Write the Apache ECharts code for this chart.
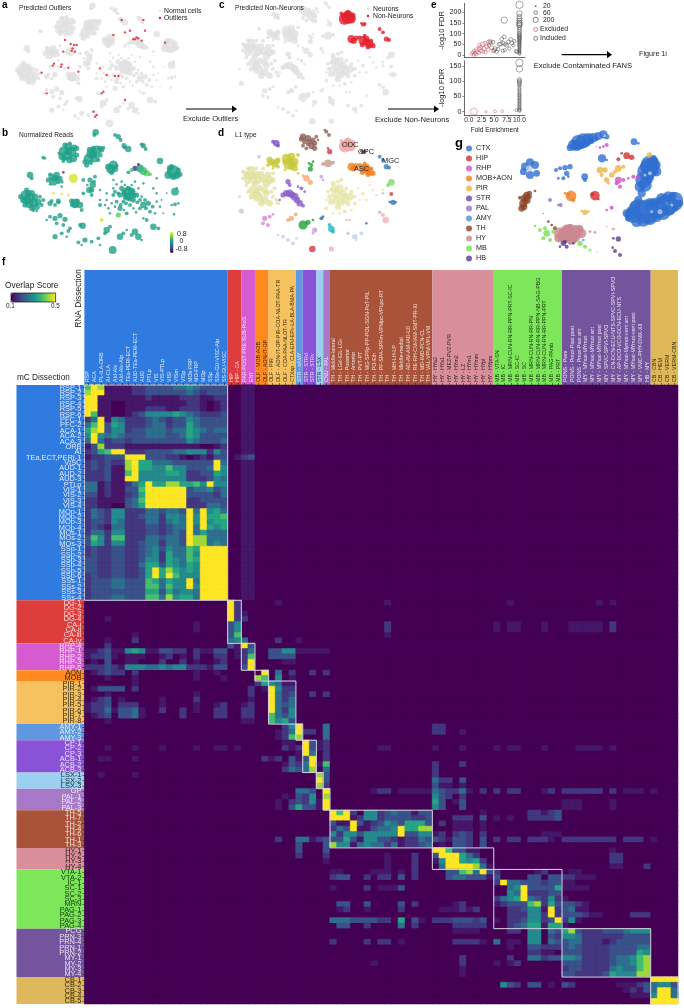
<!DOCTYPE html>
<html><head><meta charset="utf-8">
<style>html,body{margin:0;padding:0;background:#fff}#c{width:684px;height:1008px}#c canvas{filter:blur(0.35px)}</style>
<script src="https://cdn.jsdelivr.net/npm/echarts@6/dist/echarts.min.js"></script>
</head><body><div id="c"></div>
<script>
// ---------- Heatmap column labels, per RNA dissection group ----------
const colsCTX=["RSP","ACA","PL-ILA-ORB","AI-CLA","AId-AIv","AId-AIv-AIp","TEa-PERI-ECT","AUD-TEa-PERI-ECT","AUD","PTLp","VIS","VIS-PTLp","VISl","VISm","VISp","MOs-FRP","MO-FRP","MOp","SSp","SSs-GU-VISC-AIp","SS-GU-VISC"];
const colsHIP=["HIP","HIP - CA"];
const colsRHP=["PAR-POST-PRE-SUB-ProS","ENT"];
const colsMOB=["OLF - MOB-AOB","OLF - AON-IT-OP"];
const colsPIR=["OLF - PIR","OLF - AON-IT-OP-PIR-COA-NLOT-PAA-TR","OLF - COA-PAA-NLOT-TR","CTXsp - CLA-EPd-EPv-LA-BLA-BMA-PA"];
const colsAMY=["STR - sAMY"];
const colsSTR=["STR - STRd","STR - STRv"];
const colsLSX=["STR - LSX"];
const colsPAL=["CNU - PAL"];
const colsTH=["TH - Middle-lateral","TH - LGd-IGL-LGv","TH - Posterior","TH - Anterior","TH - PVT-PT","TH - MG-SPFp-PP-POL-SGN-PoT-PIL","TH - PO-Eth","TH - PF-SPA-SPFm-VPMpc-VPLpc-RT","TH","TH - MH-LH-LP","TH - Middle-medial","TH - AD-AV-AM-IAD-LD","TH - RE-RH-CM-IAM-SMT-PR-Xi","TH - MD-IMD-PCN-CL","TH - VAL-VPM-VPL-VM"];
const colsHY=["HY - HYa2","HY - HYa1","HY - MEZ-PVZ-PVR","HY - HYm2","HY - LZ","HY - HYm1","HY - HYmm","HY - HYpl","HY - HYpm"];
const colsMB=["MB - VTA-SN","MB - IC","MB - MRN-CUN-RN-RR-PPN-PRT-SC-IC","MB - SC-IC","MB - SC","MB - MRN-CUN-RN-RR-PN","MB - MRN-CUN-RN-RR-PPN-NB-SAG-PBG","MB - MRN-CUN-RN-RR-PPN-PRT","MB - PAG-PAmb","MB - PRT"];
const colsHB=["PONS - Pwm","PONS - Pmot-Psat post","PONS - Pmot-Psat ant","MY - MYsat-MYmot","MY - MYsat-MYmot ant","MY - MYsat-MYmot post","MY - SPVC-SPVI-SPVO","MY - CN-DCN-ECU-NTS-SPVC-SPVI-SPVO","MY - AP-DCO-VCO-DCN-ECU-NTS","MY - MYsat-Mymot-vent ant","MY - MYsat-MYmot-vent post","MY - VMC-PHY-DMX-XII","HB - MY"];
const colsCB=["CB - CBN","CB - HEM","CB - VERM","CB - VERM-CBN"];

// ---------- Heatmap row labels, per mC dissection group ----------
const rowNamesCTX=["RSP-1","RSP-2","RSP-3","RSP-4","RSP-5","RSP-6","PFC-1","PFC-2","ACA-1","ACA-2","ACA-3","ORB","AI","TEa,ECT,PERI-1","VISC","AUD-1","AUD-2","AUD-3","PTLp","VIS-1","VIS-2","VIS-3","VIS-4","MOp-1","MOp-2","MOp-3","MOp-4","MOs-1","MOs-2","MOs-3","SSp-1","SSp-2","SSp-3","SSp-4","SSp-5","SSp-6","SSs-1","SSs-2","SSs-3","SSs-4"];
const rowNamesHIP=["DG-1","DG-2","DG-3","DG-4","CA-i","CA-ii","CA-iii","CA-iv"];
const rowNamesRHP=["RHP-4","RHP-1","RHP-2","RHP-3","RHP-5"];
const rowNamesMOB=["AON","MOB"];
const rowNamesPIR=["PIR-1","PIR-2","PIR-3","PIR-4","PIR-5","PIR-6","PIR-7","PIR-8"];
const rowNamesAMY=["AMY-1","AMY-2","AMY-3"];
const rowNamesSTR=["CP-1","CP-2","CP-3","ACB-1","ACB-2","ACB-3"];
const rowNamesLSX=["LSX-1","LSX-2","LSX-3"];
const rowNamesPAL=["GP","PAL-1","PAL-2","PAL-3"];
const rowNamesTH=["TH-5","TH-7","TH-2","TH-4","TH-6","TH-1","TH-3"];
const rowNamesHY=["HY-1","HY-2","HY-3","HY-4"];
const rowNamesMB=["VTA-1","VTA-2","IC-1","SC-1","SC-2","SC-3","MRN","PAG-1","PAG-2","PAG-3","PAG-4"];
const rowNamesHB=["PCG","PRN-3","PRN-4","PRN-1","PRN-2","MY-1","MY-2","MY-3","MY-4"];
const rowNamesCB=["CB-1","CB-2","CB-3","CB-4","CB-5"];

// ---------- Overlap score levels: "startColumn:digits", digit picks from levelScores ----------
const levelScores=[0.10,0.125,0.165,0.2,0.245,0.29,0.335,0.38,0.44,0.5];
const rowsCTX=[
"0:798111122333344543333 23:11","0:899111122333333432333 23:11","0:991111111211112221122 23:11","0:991100111111111221012 23:11","0:991100111222112221012 23:11","0:971100123555565432223 23:11",
"0:249154222343233543333 23:11","0:479365222344233643333 23:11","0:689355233444344654344 23:11","0:595454333444334653333 23:11","0:494233233333333543334 23:11",
"0:138222111111111110012 23:11","0:236799222333344555253 23:11","0:122333999333221012133 22:123",
"0:232322896644433333394 23:11","0:232311896655755333495 23:11","0:222311795555665223365 23:11","0:222311995555555222354 23:11","0:441211246966886675955 23:11",
"0:441211337999999344534 23:11","0:331211236999999333324 23:11","0:221111347999999223333 23:11","0:221100346999999222443 23:11",
"0:243255222443443949564 23:11","0:243255223442554959667 23:11","0:233254222442454959566 23:11","0:232144222332344949656 23:11","0:244255222332343946444 23:11","0:375277222443443988444 23:11","0:365255223442443988454 23:11",
"0:232233223453544769999 23:11","0:232233223452644759999 23:11","0:332233223552654769999 23:11","0:332233224663654659999 23:11","0:332233223696865659999 23:11","0:232233223696975559999 23:11",
"0:233344333764655949999 23:11","0:233344333774755959999 23:11","0:233333333663645549999 23:11","0:233344333774856649999 23:11"];
const rowsHIP=["21:92 28:1 44:1 62:1 75:1 77:1","21:92","21:92 23:1","3:1 21:92 23:2","16:1 21:35 44:2 60:1 62:11 67:1 71:11111 77:2","16:1 21:35 44:2 60:1 62:11 67:1 71:11111 77:2","7:1 21:37 44:1","3:1 7:2 21:454 28:2 31:1"];
const rowsRHP=["3:2 21:31 23:93","0:112311 6:56511 11:3322 16:211 19:33 22:1 23:24 27:3355 31:11111","0:12231 6:111 11:12 14:1 16:2 19:22 22:1 23:27 27:3333","1:1 3:3 6:11 11:2 14:2 16:1 19:12 23:29 29:11","0:222321 6:555445455 15:22 17:21 19:33 23:39"];
const rowsMOB=["1:1 2:232 5:2 7:2 16:1 19:1 26:9 28:4 30:2 33:2 35:2","3:1 7:1 16:1 20:1 25:87 28:5 30:1"];
const rowsPIR=["7:1 25:26 27:5411","1:13 3:33 5:3 7:2 24:2 26:1 27:9522","3:1 16:1 24:2 27:9423 33:2 35:2","1:12 3:3 5:1 11:1 16:2 24:1 27:9424","0:1223 5:222 11:1 16:1 19:12 23:12 27:9434","0:12241 5:3341 11:2 14:2 16:1 19:22 23:22 27:9425","1:12 3:3 5:3341 14:2 19:22 23:22 27:7435","3:1 23:11 27:7563"];
const rowsAMY=["29:25 31:9 35:4 51:22","28:124 31:9 32:22 35:4 51:22 55:1","28:127 31:8 35:4"];
const rowsSTR=["29:11 32:93 34:1 35:2","3:1 7:1 11:1 16:1 19:11 22:1 29:21 31:2 32:93 34:1 35:2 43:11 51:1 55:1 60:1 62:11 67:1 72:1111 77:1","31:1 32:94 35:2","2:11 7:1 26:212 30:31 32:39 35:2","29:132 32:49 34:1 35:7 51:2 55:2","29:243 32:48 35:4 51:2"];
const rowsLSX=["2:1 7:1 34:83 51:2","34:93 51:422 55:3","34:82 51:311 55:1"];
const rowsPAL=["31:443 35:9 42:122 46:11111 51:43224 56:1 58:2 60:2 62:22 67:12 70:222222 77:2 79:111 83:1","29:1 31:325 35:8 51:532 55:2","28:1 30:2 31:325 34:1 35:9 51:63 54:13 70:111 77:1","28:1 30:3 31:633 34:1 35:9 51:53 55:3 70:111 77:1"];
const rowsTH=[
"36:979205523433133 58:1 65:22123","36:999125523333223 54:222 58:3 60:1 62:1 65:22223","36:311931235436663 52:2 54:111 58:1","36:243911344596688 54:111 58:1","36:525535555593355 51:12 54:232 58:2 67:111","28:2 31:44 33:1 34:2 35:3 36:336315533212243 51:321 54:332 58:3 60:2 62:22 65:2221 70:22222222 79:222 83:1","31:3 35:3 36:855145442412234 52:1 54:332 58:3"];
const rowsHY=["31:3 35:3 51:99733 56:11 77:1","31:2 35:2 44:1 48:2 51:3999642 77:22","35:1 44:1 48:2 51:15996562 77:22","44:1 48:2 52:49999841 77:11 82:2"];
const rowsMB=[
"36:11 42:111 46:1 48:2 53:3 54:3 55:7 56:8 57:4 58:9 59:3 60:2 66:12 71:11","36:233 41:2 43:22 46:3 48:2 53:34433 58:3 59:1 60:3 65:33 68:33 70:22111","60:29 62:44333233 70:11","36:1 41:2 43:111 46:3 62:45933336 70:1111","62:54922233","60:24 62:56943252 70:1","37:33 41:3 46:3 48:2 54:12 60:12 62:33378263 70:3321","37:12 41:1 46:2 52:111212 62:22355192 70:3411","62:22255292 70:33321 75:1 80:222","36:444 39:333322 46:6 48:3 49:1 51:22233323 60:1 62:22355239 70:25 72:1","37:33 41:2 46:4 48:2 54:22222 62:23466166 70:1"];
const rowsHB=[
"54:1111 62:22 65:55 68:43 70:6832223334555","65:55 68:32 70:5542222223333","36:2 41:2 43:22 46:1 54:2222 58:1 60:4 62:11 65:55 68:43 70:3442221233333","62:1 65:33222 70:3432222333344","65:2211 70:3332222333365","55:2 62:2 65:44233 70:5542222344578","42:1 55:2 60:1 62:12 70:3332222344578","55:1 70:2332222454478","55:1 70:3322223655588"];
const rowsCB=["83:9999","61:532 65:33 68:1 70:32 78:111 81:23 83:4553","79:12 81:1 82:3 83:4994","80:11 82:1 83:5994","83:9999"];

// ---------- Group colours ----------
const groupColours={CTX:"#2f7be0",HIP:"#de3d3d",RHP:"#d65bd0",MOB:"#ff8a1f",PIR:"#f5c25f",AMY:"#5f97e0",STR:"#8a52d6",LSX:"#9cd0f0",PAL:"#a779c8",TH:"#a9533a",HY:"#d98f99",MB:"#7ee65a",HB:"#74549c",CB:"#dfb85c"};
const groupInk={CTX:"#e4ecfa",HIP:"#f8dcdc",RHP:"#f8e0f6",MOB:"#3a2408",PIR:"#3a2c10",AMY:"#e8f0fb",STR:"#ece2fa",LSX:"#103040",PAL:"#f2e8fa",TH:"#f6e2da",HY:"#2c1a1e",MB:"#10380a",HB:"#ebe4f4",CB:"#33280c"};
const groupOrder=["CTX","HIP","RHP","MOB","PIR","AMY","STR","LSX","PAL","TH","HY","MB","HB","CB"];
const colGroups={CTX:colsCTX,HIP:colsHIP,RHP:colsRHP,MOB:colsMOB,PIR:colsPIR,AMY:colsAMY,STR:colsSTR,LSX:colsLSX,PAL:colsPAL,TH:colsTH,HY:colsHY,MB:colsMB,HB:colsHB,CB:colsCB};
const rowNameGroups={CTX:rowNamesCTX,HIP:rowNamesHIP,RHP:rowNamesRHP,MOB:rowNamesMOB,PIR:rowNamesPIR,AMY:rowNamesAMY,STR:rowNamesSTR,LSX:rowNamesLSX,PAL:rowNamesPAL,TH:rowNamesTH,HY:rowNamesHY,MB:rowNamesMB,HB:rowNamesHB,CB:rowNamesCB};
const rowGroups={CTX:rowsCTX,HIP:rowsHIP,RHP:rowsRHP,MOB:rowsMOB,PIR:rowsPIR,AMY:rowsAMY,STR:rowsSTR,LSX:rowsLSX,PAL:rowsPAL,TH:rowsTH,HY:rowsHY,MB:rowsMB,HB:rowsHB,CB:rowsCB};
const viridis=["#440154","#482878","#3e4989","#31688e","#26828e","#1f9e89","#35b779","#6ece58","#b5de2b","#fde725"];

// ---------- t-SNE embedding 1 (panels a, b): [u, v, size, score] read in zoomed panel units ----------
const embed1=[[287,22,5],[283,30,3],[355,35,4],[345,30,3],[362,45,3],[372,62,4],[385,72,5],[375,68,3],[430,62,4],[437,72,3],[425,58,3],[130,98,3],[135,100,2],
[205,65,6],[190,78,7],[215,80,7],[200,92,7],[220,100,6],[185,95,5],[230,70,4],[190,108,3],[275,85,8],[290,75,7],[265,100,7],[285,100,6],[305,75,4],[260,120,4],[300,90,4],
[340,120,7],[332,132,7],[345,132,5],[335,142,4],[480,108,5],[405,130,4,-0.6],[395,135,3,0.3],[420,130,6],[440,145,5,0.45],[430,138,6,0.3],[450,148,3,0.4],[385,142,3],[415,118,2,-0.7],
[520,140,10],[510,130,5],[530,150,6],[535,135,4],[90,150,5],[95,160,3],[155,155,5],[170,150,5],[180,160,4],[160,170,6],[145,165,4],[175,172,3],[185,185,2],[220,160,7,0.7],[190,142,2,-0.6],
[75,210,7],[90,220,8],[100,235,7],[70,225,5],[110,245,5],[85,205,5],[120,215,3],[100,255,3],[130,225,3],[160,205,2,0.75],[185,207,2,0.75],[205,210,2,0.75],
[150,235,4],[175,228,4],[165,240,3],[225,235,7],[240,240,5],[215,228,4],[245,255,3],[270,165,4],[278,180,5],[268,195,5],[285,155,3],[275,210,3],[250,165,3],[250,205,3],[300,240,3],
[385,205,10],[340,210,3],[350,230,3],[365,190,4],[380,215,6],[395,200,6],[400,225,4],[370,230,3],[410,210,4],[340,190,2],[325,250,2],[360,250,4],[430,240,5],[445,235,4],[420,250,3],[450,260,3],[470,230,2],[460,190,2],[430,175,2],[480,245,2],[400,250,2],[320,225,2],[300,225,2],[355,270,4,0.4],[380,265,3],[440,285,3],[470,160,2],[340,165,2],[300,195,2],[375,180,2],[415,190,2],[355,205,3],[420,225,3],[390,240,3],
[525,200,6],[530,190,2],[525,238,3],[515,240,2],[535,235,2],[460,305,5],[475,310,3],[522,268,2],[150,275,3],[165,280,4],[180,272,4],[195,283,4],[170,295,3],[190,300,3],[210,310,3],[140,285,2],[248,302,5],[240,300,3],[305,285,3,0.7],[320,315,5],[330,305,3],[315,325,3],[360,335,5],[370,325,3],[380,315,2],[405,320,5],[415,335,5],[395,330,3],[425,345,2],[165,335,4],[185,325,3],[205,318,3],[200,335,2],[235,352,3],[255,345,4],[275,350,3],[295,340,3],[245,360,2],[300,360,2],[338,375,6],[430,280,2],
[62,215,4],[80,195,4],[95,205,5],[105,215,5],[75,240,4],[88,238,6],[115,230,5],[125,240,3],[95,250,4],[80,225,7],[110,258,2],[150,148,3],[165,160,5],[185,170,3],[150,178,2],[172,162,4],[195,60,4],[210,55,3],[222,68,5],[205,78,6],[192,100,4],[208,105,5],[230,90,4],[178,85,3],[270,75,5],[300,70,4],[280,70,4],[310,68,3],[272,112,4],[255,110,4],[295,105,3],[280,88,6],[325,125,5],[350,122,3],[505,150,6],[520,155,5],[540,148,4],[515,125,4],
[345,200,3],[360,210,4],[372,200,4],[385,190,4],[402,212,4],[390,222,4],[378,235,3],[362,240,3],[335,235,2],[345,245,2],[412,232,3],[425,215,2],[435,225,3],[395,180,2],[405,170,2],[365,170,2],[350,178,2],[320,205,2],[315,240,2],[330,265,2],[372,255,2],[408,262,2],[458,245,3],[438,250,3],[465,265,2],[485,225,1.5],[490,265,1.5],[500,205,1.5],[470,205,2],[225,240,5],[232,228,4],[215,240,3],[275,195,4],[282,170,3],[262,180,2],[175,232,3],[155,228,3]];
const outlierPoints=[[232,140],[240,140],[222,137],[200,160],[225,157],[235,160],[228,150],[168,202],[172,196],[193,205],[195,198],[215,208],[135,223],[315,285],[320,280],[355,233],[365,233],[330,230],[415,123],[425,120],[435,127],[410,122],[420,117],[400,97],[385,102],[350,110],[445,97],[505,133],[300,350],[385,305],[375,65],[440,65],[205,125],[150,285],[245,220],[310,210],[290,340],[295,355]];

// ---------- t-SNE embedding 2 (panels c, d): named cell types, [u, v, size] ----------
const typeExcPale=[[70,145,4],[85,135,6],[100,150,6],[75,165,6],[95,175,5],[115,145,4],[135,150,5],[130,175,6],[150,165,4],[70,180,3],[60,160,3],[90,195,7],[105,215,8],[125,225,6],[140,235,5],[85,215,4],[150,215,3],[110,190,5],[155,190,3],[60,140,3],[75,130,3],[100,130,3],[120,160,6],[105,165,6],[85,155,6],[140,165,6],[150,145,3],[120,130,3],[75,200,3],[100,205,6],[115,235,5],[130,205,5],[145,200,3],[165,235,3],[160,225,3],[70,150,5],[90,150,5],[125,195,5]];
const typeExcOlive=[[140,105,5],[155,118,5],[165,105,4],[150,130,2],[135,120,3],[165,125,3],[190,100,7],[205,95,6],[215,110,6],[195,120,7],[215,130,5],[225,90,3],[185,135,2],[225,145,2],[145,112,5],[160,110,5],[200,108,6],[205,125,5],[185,110,4],[212,118,5]];
const typeGray=[[108,95,3],[50,215,2],[55,258,4]];
const typePurpleTop=[[160,55,5],[150,50,3],[165,62,3]];
const typeBrown=[[240,35,5],[255,40,5],[270,45,4],[245,50,4],[265,62,5],[280,35,3],[250,70,3],[275,70,4],[310,20,3],[318,30,3],[305,15,2],[235,42,4],[260,50,4],[275,55,4],[240,62,3],[255,58,3],[285,45,2]];
const typeRed=[[320,80,4],[315,70,2],[505,207,3],[268,372,5]];
const typeODC=[[375,60,10],[360,55,4],[388,55,5],[370,50,4],[365,65,9],[385,65,7],[355,48,3],[375,45,4]];
const typeOPC=[[420,82,3],[425,80,3],[415,78,2]];
const typeMGC=[[470,95,3],[480,105,3],[490,125,4],[498,128,3]];
const typeASC=[[385,125,6],[400,122,4],[420,130,7],[430,125,5],[425,115,3],[440,140,6],[450,145,4],[410,120,3],[392,130,5],[432,135,6],[445,130,3],[418,142,4],[435,148,4]];
const typeTan=[[315,115,6],[300,117,3],[330,113,3]];
const typeGreen=[[265,120,3],[262,132,4],[258,115,2],[270,110,2],[240,300,7],[255,292,4],[270,285,2]];
const typeSalmon=[[250,160,5],[262,172,4],[240,152,2],[195,285,3],[205,280,4],[218,268,3]];
const typeStr=[[195,170,4],[200,180,3],[200,205,6],[215,215,6],[230,235,5],[180,210,4],[240,242,3],[235,190,3],[245,200,2],[225,185,2],[170,225,2],[190,205,5],[208,210,5],[222,225,5]];
const typeLavender=[[295,155,3],[300,165,2],[275,315,4],[270,325,2]];
const typeCenter=[[340,205,8],[350,190,6],[330,175,4],[365,220,7],[380,215,6],[325,230,5],[345,245,5],[315,200,3],[395,235,3],[405,190,2],[420,205,3],[440,180,2],[460,210,2],[355,165,3],[310,250,3],[365,260,3],[330,265,2],[480,195,2],[335,190,6],[360,205,6],[355,230,6],[375,235,4],[340,225,6],[320,215,4],[385,200,3],[395,215,3],[410,225,2],[370,190,3],[325,195,3],[345,170,3],[310,225,2],[350,265,2],[385,255,2],[430,225,2],[450,195,2]];
const typeLightGreen=[[505,172,5],[495,180,3]];
const typeBlue=[[510,232,4],[500,231,2],[518,232,2],[295,280,3],[300,275,2],[430,295,2]];
const typePink=[[470,262,3],[480,270,3],[488,285,5],[480,205,2],[370,285,2],[380,285,2],[325,372,4]];
const typeMagenta=[[125,280,4],[140,275,3],[120,295,3],[135,300,3],[150,268,2]];
const typeCyan=[[320,300,3],[325,312,5],[330,320,3]];
const typePaleBlue=[[165,330,2],[180,335,3],[195,345,3],[210,355,3],[220,340,2],[375,325,3],[395,335,4],[415,325,3],[400,345,2]];
const cellTypes=[
 [typeExcPale,"#e1e1a0",0],[typeExcOlive,"#c9c83a",0],[typeGray,"#c9c9c9",0],[typePurpleTop,"#7b50c8",0],[typeBrown,"#8e5f58",0],[typeRed,"#d9343e",0],[typeODC,"#f0a8a8",1],[typeOPC,"#7a4a40",1],[typeMGC,"#2f7fc0",1],[typeASC,"#f07f1e",1],[typeTan,"#c49a8a",0],[typeGreen,"#1fa038",0],[typeSalmon,"#f5a873",0],[typeStr,"#8a5cc8",0],[typeLavender,"#c0a0d8",0],[typeCenter,"#e6e6a8",0],[typeLightGreen,"#7bd96a",0],[typeBlue,"#2a6fb8",0],[typePink,"#f0b0b8",0],[typeMagenta,"#e080d0",0],[typeCyan,"#20b8c8",0],[typePaleBlue,"#bcd0ee",0]];

// ---------- Panel e: [fold enrichment, -log10 FDR, count] ----------
const eTopExcluded=[[0.5,5,30],[0.8,12,40],[1,20,40],[1.2,10,40],[1.5,25,50],[1.7,15,50],[2,30,60],[2,10,40],[2.3,35,60],[2.5,20,50],[2.7,50,80],[2.8,15,40],[3,30,60],[3.2,55,70],[3.5,40,60],[3.8,25,50],[3.9,60,60],[4.2,65,60],[4.5,35,50],[4.8,18,40],[3.3,12,40],[2.1,45,60],[1.4,3,40],[1,2,40]];
const eTopIncluded=[[4,45,40],[4.3,58,50],[4.8,60,50],[5,22,50],[5.2,30,50],[5.5,15,40],[5.8,28,50],[6,50,60],[6.3,52,60],[6.5,75,50],[6.8,55,50],[7,85,50],[7.2,50,50],[7.5,45,50],[7.8,62,50],[8,30,40],[8.3,73,50],[8.5,55,50],[6.7,20,40],[7.1,22,40],[8.8,45,40],[9,65,40],[9.3,18,40],[9.5,15,40],[7,163,150],[10,235,200],[10,195,110],[10,180,90],[10,170,90],[10,160,100],[10,150,110],[10,145,110],[10,140,100],[10,130,70],[10,120,60],[10,110,60],[10,100,60],[10,95,50],[10,90,50],[10,85,50],[10,80,50],[10,75,50],[10,70,50],[10,65,40],[10,60,40],[10,55,40],[10,50,40],[10,45,40],[10,40,40],[10,35,30],[10,30,30],[10,25,30],[10,20,30],[10,15,30],[10,10,30],[10,5,30]];
const eBottomExcluded=[[1,0,180],[3.4,0,15],[5.2,1,30],[6.6,1,25]];
const eBottomIncluded=[[9.4,5,30],[10,160,200],[10,140,150],[10,105,60],[10,100,60],[10,95,60],[10,90,50],[10,85,40],[10,78,40],[10,72,40],[10,66,40],[10,60,40],[10,55,40],[10,50,40],[10,45,40],[10,40,40],[10,35,40],[10,30,40],[10,25,40],[10,20,40],[10,15,40],[10,10,40],[10,6,40],[10,3,40]];

// ---------- Panel g: UMAP per region, [u, v, size] ----------
const umapCTX=[[430,60,8],[445,52,11],[460,47,11],[475,42,9],[490,38,7],[505,33,6],[520,28,6],[530,35,4],[420,68,5],[440,62,8],[455,60,6],[470,55,5],[485,48,4],[500,42,3],[660,120,14],[650,140,14],[640,165,12],[630,185,8],[670,110,8],[680,140,7],[625,250,14],[610,270,12],[650,260,18],[680,250,16],[710,240,16],[735,225,12],[600,270,8],[640,285,10],[660,280,10],[700,265,10],[740,240,8],[660,235,8],[695,220,8],[715,215,8],[655,125,12],[665,135,10],[645,180,10],[635,205,6],[625,225,6],[615,245,8],[600,255,5],[590,265,6],[595,280,5],[620,290,8],[680,275,8],[720,255,8],[735,250,5],[750,235,5],[730,210,5],[670,100,5],[680,120,6],[655,160,8],[675,235,6],[285,125,6],[300,112,6],[315,120,6],[280,140,5],[300,150,6],[320,145,5],[378,135,3],[390,130,3],[405,128,4],[420,125,4],[410,145,4],[400,160,3],[385,160,2],[415,155,2],[464,155,5],[465,165,3],[516,100,6],[530,105,2],[612,50,5],[625,55,2]];
const umapCTXspots=[[297,130,6],[660,145,4],[645,150,3],[690,260,5],[665,260,3],[725,240,3],[525,32,3]];
const umapHIP=[[495,212,7],[487,208,3],[505,222,2],[590,92,5],[605,97,4],[575,85,2],[565,103,3]];
const umapRHP=[[565,165,5],[580,165,3],[570,185,3],[560,175,3],[595,160,2],[610,155,3],[625,155,3],[530,60,3],[520,65,2],[510,68,2],[500,65,1],[545,248,3],[530,255,2]];
const umapMOB=[[423,213,8],[415,208,3],[430,225,3],[405,205,2]];
const umapPIR=[[510,135,5],[525,135,4],[515,150,3],[530,165,4],[545,150,4],[565,130,5],[580,125,3],[555,140,3],[535,175,2],[465,262,4],[455,258,2],[475,260,2],[658,90,4]];
const umapSTR=[[420,355,2],[395,345,2]];
const umapPAL=[[360,225,3],[385,240,2],[392,240,3]];
const umapAMY=[[435,350,2],[460,345,2]];
const umapTH=[[298,205,4],[285,220,6],[280,235,6],[275,250,5],[290,210,5],[300,215,3],[270,218,3],[315,198,2],[290,225,6],[282,245,5],[375,310,3],[365,300,2],[355,290,2],[340,265,1]];
const umapHY=[[420,325,14],[405,330,11],[390,325,9],[440,320,10],[455,325,7],[425,340,9],[385,340,6],[420,305,4],[410,315,8],[435,335,8],[395,340,6],[450,310,5],[480,320,2],[495,322,2],[530,305,1],[550,312,2]];
const umapMB=[[350,325,5],[330,315,3],[315,303,2],[360,345,3],[340,340,3],[345,310,3],[450,355,4],[465,365,3],[480,375,2],[500,380,1],[370,320,3]];
const umapHB=[[565,342,4],[550,340,2],[555,378,3],[570,390,3],[548,368,2],[400,355,4],[410,365,3],[390,365,2],[405,350,3],[430,355,2]];
const umapRegions=[["CTX","#2f6fd0",umapCTX],["HIP","#d32f2f",umapHIP],["RHP","#d050c8",umapRHP],["MOB+AON","#f08020",umapMOB],["PIR","#ecb443",umapPIR],["STR","#6a3fb8",umapSTR],["PAL","#9a70c0",umapPAL],["AMY","#5090d8",umapAMY],["TH","#8a4526",umapTH],["HY","#cc8790",umapHY],["MB","#7adf50",umapMB],["HB","#5a3f8f",umapHB]];

// ---------- Build ----------
const FONT="Liberation Sans";
const colNames=[],colInk=[],rowNames=[],rowInk=[],boxes=[],stripColours=[],heat=[];
let rowStart=0,colStart=0;
groupOrder.forEach(g=>{
  colGroups[g].forEach(n=>{colNames.push(n);colInk.push(groupInk[g]);});
  rowNameGroups[g].forEach(n=>{rowNames.push(n);rowInk.push(groupInk[g]);});
  boxes.push([colStart,rowStart,colStart+colGroups[g].length-1,rowStart+rowNameGroups[g].length-1]);
  stripColours.push(groupColours[g]);
  colStart+=colGroups[g].length;rowStart+=rowNameGroups[g].length;
});
const levels=[];
groupOrder.forEach(g=>rowGroups[g].forEach(spec=>{
  const line=new Array(colNames.length).fill(0);
  spec.split(" ").forEach(tok=>{const [s,d]=tok.split(":");[...d].forEach((ch,i)=>{line[+s+i]=+ch;});});
  levels.push(line);
}));
levels.forEach((line,r)=>line.forEach((d,c)=>{
  const score=levelScores[d];
  heat.push(d===0?[c,r,score]:{value:[c,r,score],itemStyle:{borderWidth:0.5,borderColor:echarts.color.lerp((score-0.1)/0.4,viridis)}});
}));

const grids=[],xAxes=[],yAxes=[],series=[];
function addGrid(rect,x,y){grids.push(rect);const i=grids.length-1;xAxes.push(Object.assign({gridIndex:i},x));yAxes.push(Object.assign({gridIndex:i},y));return i;}
const hidden={show:false};
function panel(left,top,u0,v0){ // scatter panels: 3 zoom units per pixel
  const w=(600-u0)/3,h=(400-v0)/3;
  return addGrid({left,top,width:w,height:h},Object.assign({type:"value",min:u0,max:600},hidden),Object.assign({type:"value",min:v0,max:400,inverse:true},hidden));
}
function cloud(gi,data,color,grow,extra){series.push(Object.assign({type:"scatter",xAxisIndex:gi,yAxisIndex:gi,data,symbolSize:v=>v[2]*grow,itemStyle:{color},silent:true,animation:false},extra||{}));}

// heatmap
const HL=84.4,HT=385,HW=593.6,HH=619,STRIP_TOP=270,STRIP_LEFT=16.5;
const gH=addGrid({left:HL,top:HT,width:HW,height:HH,show:true,backgroundColor:"#440154",borderWidth:0},
 {type:"category",data:colNames,position:"top",z:10,axisLine:{show:false},axisTick:{show:true,length:2,interval:0,alignWithLabel:true,lineStyle:{color:"#222",width:0.6}},
  axisLabel:{interval:0,rotate:-90,fontSize:5.3,margin:3,color:(v,i)=>colInk[i],fontFamily:FONT},splitLine:{show:false},splitArea:{show:false}},
 {type:"category",data:rowNames,inverse:true,z:10,axisLine:{show:false},axisTick:{show:true,length:2,interval:0,alignWithLabel:true,lineStyle:{color:"#222",width:0.6}},
  axisLabel:{interval:0,fontSize:7.4,margin:3,color:(v,i)=>rowInk[i],fontFamily:FONT},splitLine:{show:false},splitArea:{show:false}});
// dissection colour strips: one rectangle per group, positioned from the heatmap's own scales
const strip=(isTop)=>({type:"custom",xAxisIndex:gH,yAxisIndex:gH,data:boxes,silent:true,clip:false,animation:false,z:1,encode:{x:0,y:1},
 renderItem:(p,api)=>{const a=api.coord([api.value(0),api.value(1)]),b=api.coord([api.value(2),api.value(3)]),s=api.size([1,1]);
  const shape=isTop?{x:a[0]-s[0]/2,y:STRIP_TOP,width:b[0]-a[0]+s[0],height:HT-STRIP_TOP}:{x:STRIP_LEFT,y:a[1]-s[1]/2,width:HL-STRIP_LEFT,height:b[1]-a[1]+s[1]};
  return {type:"rect",shape,style:{fill:stripColours[p.dataIndex]}};}});
series.push(strip(true),strip(false));
const heatIdx=series.length;
series.push({type:"heatmap",xAxisIndex:gH,yAxisIndex:gH,data:heat,progressive:0,animation:false,silent:true,emphasis:{disabled:true}});
series.push({type:"custom",xAxisIndex:gH,yAxisIndex:gH,data:boxes,silent:true,clip:false,animation:false,z:5,encode:{x:0,y:1},
 renderItem:(p,api)=>{const a=api.coord([api.value(0),api.value(1)]),b=api.coord([api.value(2),api.value(3)]),s=api.size([1,1]);
  return {type:"rect",shape:{x:a[0]-s[0]/2,y:a[1]-s[1]/2,width:b[0]-a[0]+s[0],height:b[1]-a[1]+s[1]},style:{fill:"none",stroke:"#d6d6e4",lineWidth:1}};}});

// a, b: embedding 1
const gA=panel(0,0,10,5);
cloud(gA,embed1,"#e0e0e0",1.3);
cloud(gA,outlierPoints.map(p=>[p[0],p[1],2.4]),"#da1f2b",1);
const gB=panel(0,125,0,0);
const bIdx=series.length;
cloud(gB,embed1.map(p=>[p[0],p[1],p[2],p[3]===undefined?0.1:p[3]]),"#2a9080",1.3);
// c, d: embedding 2
const gC=panel(223,0,0,8);
const gD=panel(223,125,0,0);
cellTypes.forEach(t=>cloud(gC,t[0],t[2]?"#e2202c":"#e0e0e0",1.3));
cellTypes.forEach(t=>cloud(gD,t[0],t[1],1.3));

// e
const eX={type:"value",min:-0.9,max:11.1,axisLine:{onZero:false,lineStyle:{color:"#444",width:0.8}},axisTick:{length:2,lineStyle:{color:"#444",width:0.6},customValues:[0,2.5,5,7.5,10]},splitLine:{show:false}};
const eY=(min,max,ticks)=>({type:"value",min,max,name:"-log10 FDR",nameLocation:"middle",nameGap:15,nameTextStyle:{fontSize:7.5,color:"#222",fontFamily:FONT},axisLine:{onZero:false,lineStyle:{color:"#444",width:0.8}},axisTick:{length:2,lineStyle:{color:"#444",width:0.6},customValues:ticks},axisLabel:{fontSize:7,color:"#222",margin:3,customValues:ticks,fontFamily:FONT},splitLine:{show:false}});
const gE1=addGrid({left:464.3,top:3.3,width:60.7,height:54},Object.assign({},eX,{axisLabel:{show:false},axisTick:{show:false}}),eY(-10.8,242,[0,50,100,150,200]));
const gE2=addGrid({left:464.3,top:60.7,width:60.7,height:54.3},Object.assign({},eX,{name:"Fold Enrichment",nameLocation:"middle",nameGap:12,nameTextStyle:{fontSize:6.6,color:"#222",fontFamily:FONT},axisLabel:{fontSize:6.6,color:"#222",margin:2,customValues:[0,2.5,5,7.5,10],formatter:v=>v.toFixed(1),fontFamily:FONT}}),eY(-11,167,[0,50,100,150]));
function hollow(gi,data,color){series.push({type:"scatter",xAxisIndex:gi,yAxisIndex:gi,data,symbolSize:v=>Math.sqrt(v[2])*0.52,itemStyle:{color:"rgba(0,0,0,0)",borderColor:color,borderWidth:0.55},silent:true,animation:false});}
hollow(gE1,eTopExcluded,"#c0445a");hollow(gE1,eTopIncluded,"#333");hollow(gE2,eBottomExcluded,"#c0445a");hollow(gE2,eBottomIncluded,"#333");

// g
const gG=addGrid({left:430,top:125,width:254,height:135},{type:"value",min:0,max:762,show:false},{type:"value",min:0,max:405,inverse:true,show:false});
umapRegions.forEach(r=>cloud(gG,r[2],r[1],1.35,{name:r[0]}));
cloud(gG,umapCTXspots,"#b8cdf0",1);

// text and marks
const T=(text,x,y,size,o)=>Object.assign({type:"text",x,y,z:20,style:Object.assign({text,fontSize:size,fontFamily:FONT,fill:"#222",verticalAlign:"middle"},o||{})});
const Tr=(text,x,y,size)=>({type:"text",x,y,z:20,rotation:Math.PI/2,style:{text,fontSize:size,fontFamily:FONT,fill:"#222",align:"center",verticalAlign:"middle"}});
const B=(text,x,y,size)=>T(text,x,y,size||10,{fontWeight:"bold",fill:"#000"});
const dot=(x,y,r,fill,stroke)=>({type:"circle",z:20,shape:{cx:x,cy:y,r},style:{fill:fill||"none",stroke:stroke||null,lineWidth:0.6}});
const arrow=(x0,x1,y)=>[{type:"line",z:20,shape:{x1:x0,y1:y,x2:x1-3,y2:y},style:{stroke:"#000",lineWidth:1.2}},{type:"polygon",z:20,shape:{points:[[x1-4,y-3.6],[x1+1,y],[x1-4,y+3.6]]},style:{fill:"#000"}}];
const graphics=[
 B("a",2,5),B("b",2,133),B("c",219,5),B("d",218,133),B("e",431,5),B("f",2,262),B("g",455,143,13),
 T("Predicted Outliers",19,8,6.6),T("Normalized Reads",19,135,6.6),T("Predicted Non-Neurons",235,8,6.6),T("L1 type",235,135,6.6),
 dot(160,10.7,0.9,"#d4d4d4"),T("Normal cells",164,11,6.8),dot(160,18,1.2,"#da1f2b"),T("Outliers",164,18.5,6.8),
 dot(368,9,0.9,"#d4d4d4"),T("Neurons",373,9.5,6.8),dot(368,16,1.2,"#da1f2b"),T("Non-Neurons",373,16.5,6.8),
 ...arrow(186,236,109),T("Exclude Outliers",183,119,7.6),...arrow(388,438,109),T("Exclude Non-Neurons",375,120,7.6),...arrow(561.7,611,54.7),T("Exclude Contaminated FANS",533.7,65.5,7.6),T("Figure 1i",639,54.5,7.2),
 dot(535.7,6.2,0.9,"#666"),T("20",543,6.5,6.8),dot(535.7,12.6,1.7,null,"#333"),T("60",543,13,6.8),dot(535.7,19.8,2.6,null,"#333"),T("200",543,20,6.8),dot(535.7,29.5,2,null,"#c0445a"),T("Excluded",540,29.5,6.8),dot(535.7,38.4,2,null,"#333"),T("Included",540,38.5,6.8),
 T("ODC",342,145,7.4),T("OPC",358,152,7.4,{fill:"#111"}),T("MGC",382,161,7.4),T("ASC",354,169,7.4),
 T("0.8",177,234.5,7),T("0",179.5,241.5,7),T("-0.8",175.5,249,7),
 T("Overlap Score",5,285.5,8.4),T("0.1",6,306,6.4),T("0.5",51,306,6.4),
 {type:"rect",z:20,shape:{x:11,y:293,width:44.6,height:9},style:{fill:"none",stroke:"#111",lineWidth:0.7}},
 T("mC Dissection",17,377.5,8.2),Tr("RNA Dissection",79,298.5,8.4)
];

const chart=echarts.init(document.getElementById("c"),null,{renderer:"canvas",width:684,height:1008});
chart.setOption({animation:false,textStyle:{fontFamily:FONT},grid:grids,xAxis:xAxes,yAxis:yAxes,series,graphic:{elements:graphics},
 legend:{data:umapRegions.map(r=>r[0]),orient:"vertical",left:466,top:145,itemWidth:6,itemHeight:6,itemGap:3,icon:"circle",selectedMode:false,textStyle:{fontSize:7.2,color:"#222",fontFamily:FONT,padding:[0,0,0,-1]},padding:0},
 visualMap:[
  {type:"continuous",seriesIndex:heatIdx,dimension:2,min:0.1,max:0.5,orient:"horizontal",left:11,top:293,itemHeight:44.6,itemWidth:9,inRange:{color:viridis},calculable:false,hoverLink:false,padding:0,textGap:0},
  {type:"continuous",seriesIndex:bIdx,dimension:3,min:-0.8,max:0.8,orient:"vertical",left:170,top:232,itemHeight:21,itemWidth:3.5,inRange:{color:viridis},calculable:false,hoverLink:false,padding:0,textGap:0}
 ]});
</script></body></html>
